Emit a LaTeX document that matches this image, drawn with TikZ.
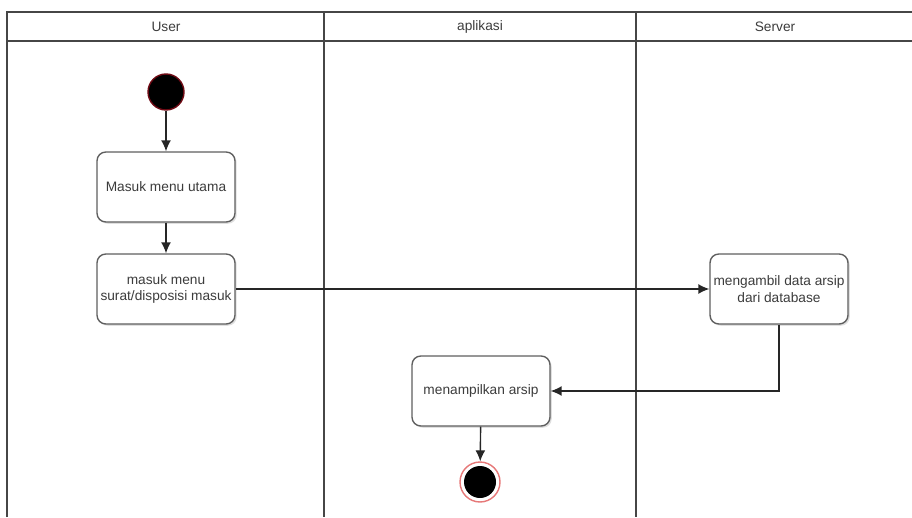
\documentclass[tikz,border=0pt]{standalone}
\usepackage{fontspec}
\setmainfont{Liberation Sans}
\usepackage{tikz}
\usetikzlibrary{calc, positioning, arrows.meta, shadows}
\usepackage{xcolor}
\definecolor{laneLine}{RGB}{70, 70, 70}
\definecolor{boxLine}{RGB}{95, 95, 95}
\definecolor{textGrey}{RGB}{60, 60, 60}
\definecolor{startRed}{RGB}{110, 10, 20}
\definecolor{endRed}{RGB}{230, 120, 120}

\begin{document}
\begin{tikzpicture}[x=0.02cm, y=-0.02cm, font=\fontsize{7.8}{9.5}\selectfont, text=textGrey,
  act/.style={rectangle, rounded corners=5pt, draw=boxLine, thick, fill=white,
    minimum width=2.76cm, minimum height=1.4cm, align=center, inner sep=0pt,
    drop shadow={opacity=0.25, shadow xshift=1pt, shadow yshift=-1pt}},
  flow/.style={-{Latex[length=2.2mm, width=2mm]}, thick, black!85}]
  \useasboundingbox (0,0) rectangle (912,517);
  % swimlanes
  \draw[laneLine, thick] (7,517) -- (7,12) -- (912,12);
  \draw[laneLine, very thick] (7,41) -- (912,41);
  \draw[laneLine, thick] (324,12) -- (324,517);
  \draw[laneLine, thick] (636,12) -- (636,517);
  \node (hUser) at (166,27) {User};
  \node (hApp) at (480,27) {aplikasi};
  \node (hServer) at (775,27) {Server};
  % start and end
  \node[circle, fill=black, draw=startRed, thick, minimum size=0.72cm, inner sep=0pt] (start) at (166,92) {};
  \node[circle, draw=endRed, thick, fill=white, minimum size=0.8cm, inner sep=0pt] (end) at (480,482) {};
  \node[circle, fill=black, minimum size=0.64cm, inner sep=0pt] (endDot) at (end) {};
  % activities
  \node[act] (menuUtama) at (166,187) {Masuk menu utama};
  \node[act] (menuSurat) at (166,289) {masuk menu\\surat/disposisi masuk};
  \node[act] (ambilData) at (779,289) {mengambil data arsip\\dari database};
  \node[act] (tampilArsip) at (481,391) {menampilkan arsip};
  % flows
  \draw[flow] (start) -- (menuUtama);
  \draw[flow] (menuUtama) -- (menuSurat);
  \draw[flow] (menuSurat) -- (ambilData);
  \draw[flow] (ambilData.south) |- (tampilArsip.east);
  \draw[flow] (tampilArsip) -- (end);
\end{tikzpicture}
\end{document}
